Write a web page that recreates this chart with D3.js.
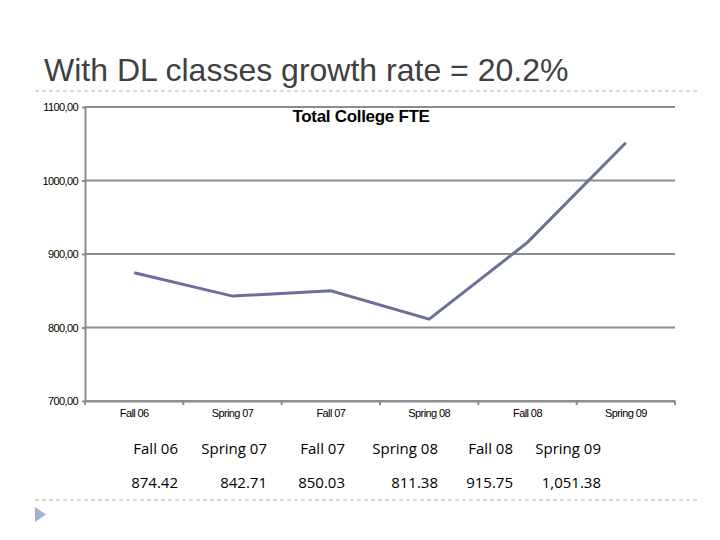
<!DOCTYPE html>
<html lang="en">
<head>
<meta charset="UTF-8">
<title>Total College FTE</title>
<style>
  body { margin: 0; background: #fff; }
  svg { display: block; }
</style>
</head>
<body>
<script src="https://cdn.jsdelivr.net/npm/d3@7"></script>
<script>
var terms = ["Fall 06", "Spring 07", "Fall 07", "Spring 08", "Fall 08", "Spring 09"];
var fte = [874.42, 842.71, 850.03, 811.38, 915.75, 1051.38];
var fteLabels = ["874.42", "842.71", "850.03", "811.38", "915.75", "1,051.38"];
var yTicks = [700, 800, 900, 1000, 1100];

(function() {
  var width = 720, height = 540;
  var svg = d3.select("body").append("svg")
    .attr("width", width)
    .attr("height", height);

  // slide title + dashed rules
  svg.append("text")
    .attr("x", 44).attr("y", 81)
    .style("font-family", "'Liberation Sans', Arial, sans-serif")
    .style("font-size", "32px")
    .style("fill", "#404040")
    .text("With DL classes growth rate = 20.2%");

  svg.append("line")
    .attr("x1", 35).attr("x2", 700).attr("y1", 91).attr("y2", 91)
    .style("stroke", "#b0b0b0").style("stroke-dasharray", "4,3");

  svg.append("line")
    .attr("x1", 35).attr("x2", 700).attr("y1", 500).attr("y2", 500)
    .style("stroke", "#b0b0b0").style("stroke-dasharray", "4,3");

  svg.append("path")
    .attr("d", "M35,507 L46,514.5 L35,522 Z")
    .style("fill", "#9fb3cc");

  // chart
  var x = d3.scaleBand().domain(terms).range([85, 675]);
  var y = d3.scaleLinear().domain([700, 1100]).range([401, 107]);

  var g = svg.append("g");

  g.selectAll(".grid")
    .data(yTicks)
    .enter().append("line")
    .attr("class", "grid")
    .attr("x1", 85).attr("x2", 675)
    .attr("y1", function(d) { return y(d); })
    .attr("y2", function(d) { return y(d); })
    .style("stroke", "#8c8c8c").style("stroke-width", 2);

  var yAxis = g.append("g")
    .attr("transform", "translate(85,0)")
    .call(d3.axisLeft(y).tickValues(yTicks).tickSize(3).tickSizeOuter(0)
      .tickFormat(function(d) { return d3.format(".2f")(d).replace(".", ","); }));
  yAxis.select(".domain").style("stroke", "#8c8c8c").style("stroke-width", 2);
  yAxis.selectAll(".tick line").style("stroke", "#8c8c8c").style("stroke-width", 2);
  yAxis.selectAll(".tick text")
    .attr("x", -7).attr("dy", "0.32em")
    .style("font-family", "'Liberation Sans', Arial, sans-serif")
    .style("font-size", "11px").style("letter-spacing", "-0.6px")
    .style("fill", "#000");

  var xAxis = g.append("g")
    .attr("transform", "translate(0,401)")
    .call(d3.axisBottom(x).tickSize(0));
  xAxis.select(".domain").style("stroke", "#8c8c8c").style("stroke-width", 2);
  xAxis.selectAll(".tick text")
    .attr("y", 8)
    .style("font-family", "'Liberation Sans', Arial, sans-serif")
    .style("font-size", "11px").style("letter-spacing", "-0.6px")
    .style("fill", "#000");

  // ticks at band edges
  g.selectAll(".xedge")
    .data(terms.concat([null]))
    .enter().append("line")
    .attr("class", "xedge")
    .attr("x1", function(d, i) { return i < terms.length ? x(d) : x.range()[1]; })
    .attr("x2", function(d, i) { return i < terms.length ? x(d) : x.range()[1]; })
    .attr("y1", 401).attr("y2", 405)
    .style("stroke", "#8c8c8c").style("stroke-width", 2);

  var line = d3.line()
    .x(function(d, i) { return x(terms[i]) + x.bandwidth() / 2; })
    .y(function(d) { return y(d); });

  g.append("path")
    .datum(fte)
    .attr("d", line)
    .style("fill", "none")
    .style("stroke", "#6b7096")
    .style("stroke-width", 3);

  svg.append("text")
    .attr("x", 361).attr("y", 122)
    .attr("text-anchor", "middle")
    .style("font-family", "'Liberation Sans', Arial, sans-serif")
    .style("font-size", "17px").style("font-weight", "bold")
    .style("letter-spacing", "-0.3px")
    .style("fill", "#000")
    .text("Total College FTE");

  // data table under the chart
  var colRight = d3.scaleOrdinal().domain(terms).range([178, 267, 345, 438, 513, 601]);

  svg.selectAll(".hdr")
    .data(terms)
    .enter().append("text")
    .attr("class", "hdr")
    .attr("x", function(d) { return colRight(d); })
    .attr("y", 454)
    .attr("text-anchor", "end")
    .style("font-family", "'Open Sans', sans-serif")
    .style("font-size", "15px")
    .style("fill", "#000")
    .text(function(d) { return d; });

  svg.selectAll(".val")
    .data(fteLabels)
    .enter().append("text")
    .attr("class", "val")
    .attr("x", function(d, i) { return colRight(terms[i]); })
    .attr("y", 488)
    .attr("text-anchor", "end")
    .style("font-family", "'Open Sans', sans-serif")
    .style("font-size", "15px")
    .style("fill", "#000")
    .text(function(d) { return d; });
})();
</script>
</body>
</html>
